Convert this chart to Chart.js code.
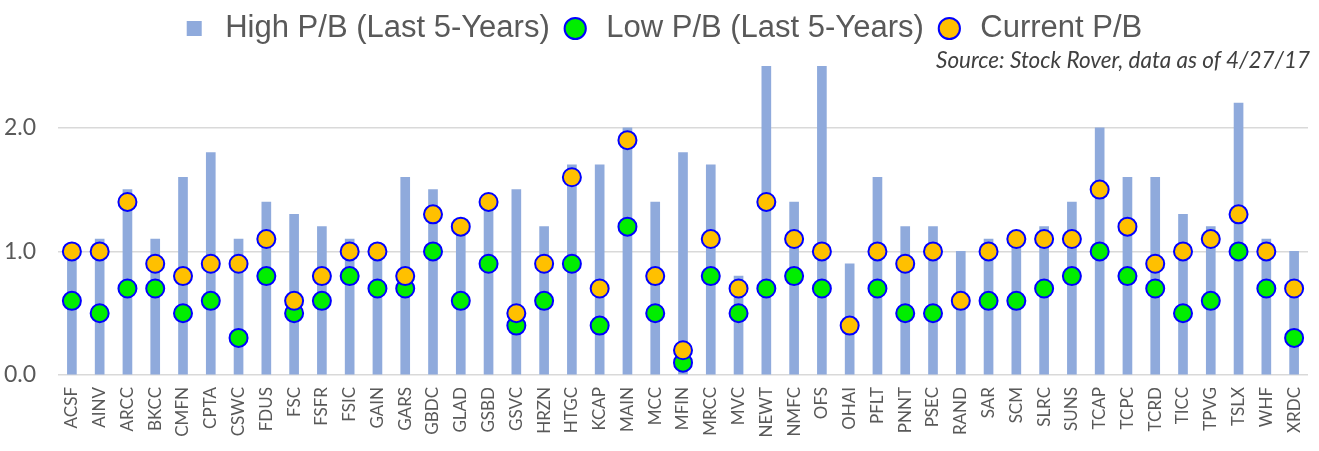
<!DOCTYPE html>
<html>
<head>
<meta charset="utf-8">
<script src="https://cdn.jsdelivr.net/npm/chart.js@4.4.0/dist/chart.umd.min.js"></script>
<style>
    body { margin: 0; background: #fff; }
    #wrap { position: relative; width: 1319px; height: 451px; }
    #source {
        position: absolute; right: 9px; top: 46px;
        font: italic 22.5px Lato, sans-serif; color: #404040;
    }
</style>
</head>
<body>
<div id="wrap">
    <canvas id="pbChart"></canvas>
    <div id="source">Source: Stock Rover, data as of 4/27/17</div>
</div>
<script>
const tickers = ['ACSF', 'AINV', 'ARCC', 'BKCC', 'CMFN', 'CPTA', 'CSWC', 'FDUS', 'FSC', 'FSFR',
    'FSIC', 'GAIN', 'GARS', 'GBDC', 'GLAD', 'GSBD', 'GSVC', 'HRZN', 'HTGC', 'KCAP',
    'MAIN', 'MCC', 'MFIN', 'MRCC', 'MVC', 'NEWT', 'NMFC', 'OFS', 'OHAI', 'PFLT',
    'PNNT', 'PSEC', 'RAND', 'SAR', 'SCM', 'SLRC', 'SUNS', 'TCAP', 'TCPC', 'TCRD',
    'TICC', 'TPVG', 'TSLX', 'WHF', 'XRDC'];

// high P/B over last 5 years (NEWT and OFS run off the top of the chart)
const highPB = [1.0, 1.1, 1.5, 1.1, 1.6, 1.8, 1.1, 1.4, 1.3, 1.2,
    1.1, 1.0, 1.6, 1.5, 1.2, 1.4, 1.5, 1.2, 1.7, 1.7,
    2.0, 1.4, 1.8, 1.7, 0.8, 2.5, 1.4, 2.5, 0.9, 1.6,
    1.2, 1.2, 1.0, 1.1, 1.1, 1.2, 1.4, 2.0, 1.6, 1.6,
    1.3, 1.2, 2.2, 1.1, 1.0];

const lowPB = [0.6, 0.5, 0.7, 0.7, 0.5, 0.6, 0.3, 0.8, 0.5, 0.6,
    0.8, 0.7, 0.7, 1.0, 0.6, 0.9, 0.4, 0.6, 0.9, 0.4,
    1.2, 0.5, 0.1, 0.8, 0.5, 0.7, 0.8, 0.7, null, 0.7,
    0.5, 0.5, null, 0.6, 0.6, 0.7, 0.8, 1.0, 0.8, 0.7,
    0.5, 0.6, 1.0, 0.7, 0.3];

const currentPB = [1.0, 1.0, 1.4, 0.9, 0.8, 0.9, 0.9, 1.1, 0.6, 0.8,
    1.0, 1.0, 0.8, 1.3, 1.2, 1.4, 0.5, 0.9, 1.6, 0.7,
    1.9, 0.8, 0.2, 1.1, 0.7, 1.4, 1.1, 1.0, 0.4, 1.0,
    0.9, 1.0, 0.6, 1.0, 1.1, 1.1, 1.1, 1.5, 1.2, 0.9,
    1.0, 1.1, 1.3, 1.0, 0.7];

const yTicks = [0, 1, 2];
const yMax = 2.5;

const textGray = '#595959';

function pointSeries(label, values, fill, order) {
    return {
        type: 'line',
        label: label,
        data: values,
        showLine: false,
        order: order,
        pointStyle: 'circle',
        pointRadius: 9,
        pointHoverRadius: 9,
        pointBorderWidth: 2,
        pointBorderColor: '#0000FF',
        pointBackgroundColor: fill,
        borderColor: '#0000FF',
        backgroundColor: fill
    };
}

// keep the legend row near the top but leave a gap before the plot
const legendHeight = {
    id: 'legendHeight',
    beforeInit(chart) {
        const fit = chart.legend.fit;
        chart.legend.fit = function () {
            fit.call(this);
            this.height = 63;
        };
    }
};

const ctx = document.getElementById('pbChart').getContext('2d');

new Chart(ctx, {
    data: {
        labels: tickers,
        datasets: [
            {
                type: 'bar',
                label: 'High P/B (Last 5-Years)',
                data: highPB,
                backgroundColor: '#8FAADC',
                barThickness: 9,
                pointStyle: 'rect',
                order: 2
            },
            pointSeries('Low P/B (Last 5-Years)', lowPB, '#00EE00', 1),
            pointSeries('Current P/B', currentPB, '#FFC000', 0)
        ]
    },
    options: {
        responsive: true,
        maintainAspectRatio: false,
        animation: false,
        layout: { padding: { left: 3, right: 1, top: 3 } },
        plugins: {
            tooltip: { enabled: false },
            legend: {
                position: 'top',
                labels: {
                    usePointStyle: true,
                    boxHeight: 15,
                    padding: 10,
                    color: textGray,
                    font: { family: "'Liberation Sans', Arial, sans-serif", size: 31 },
                    sort: (a, b) => a.datasetIndex - b.datasetIndex
                }
            }
        },
        scales: {
            x: {
                grid: { display: false },
                border: { display: false },
                ticks: {
                    autoSkip: false,
                    minRotation: 90,
                    maxRotation: 90,
                    padding: 4,
                    color: textGray,
                    font: { family: 'Lato, sans-serif', size: 17 }
                },
                afterFit: axis => { axis.height = 76; }
            },
            y: {
                min: 0,
                max: yMax,
                grid: { color: '#D9D9D9', lineWidth: 1.5, drawTicks: false },
                border: { display: false },
                ticks: {
                    color: textGray,
                    padding: 22,
                    font: { family: 'Lato, sans-serif', size: 23 },
                    callback: v => Number(v).toFixed(1)
                },
                afterBuildTicks: axis => {
                    axis.ticks = yTicks.map(v => ({ value: v }));
                },
                afterFit: axis => { axis.width = 55; }
            }
        }
    },
    plugins: [legendHeight]
});
</script>
</body>
</html>
